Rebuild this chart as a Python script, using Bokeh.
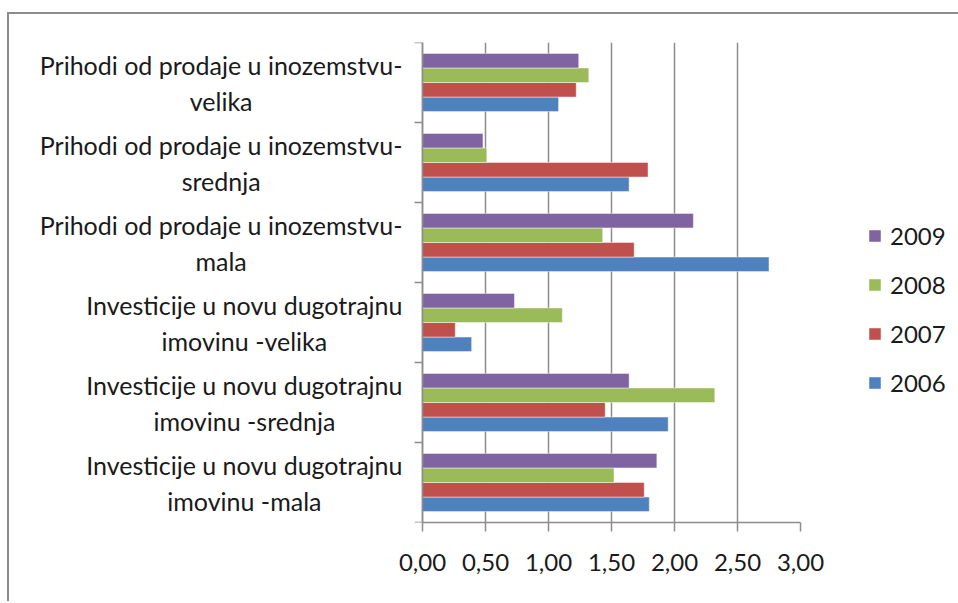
from bokeh.plotting import figure
from bokeh.models import ColumnDataSource, Range1d, FixedTicker, Legend, LegendItem
from bokeh.transform import dodge
from bokeh.core.properties import value
from bokeh.embed import file_html
from bokeh.resources import INLINE

# categories, bottom to top
categories = [
    "Investicije u novu dugotrajnu\nimovinu -mala",
    "Investicije u novu dugotrajnu\nimovinu -srednja",
    "Investicije u novu dugotrajnu\nimovinu -velika",
    "Prihodi od prodaje u inozemstvu-\nmala",
    "Prihodi od prodaje u inozemstvu-\nsrednja",
    "Prihodi od prodaje u inozemstvu-\nvelika",
]
years = ["2006", "2007", "2008", "2009"]
v2006 = [1.80, 1.95, 0.39, 2.75, 1.64, 1.08]
v2007 = [1.76, 1.45, 0.26, 1.68, 1.79, 1.22]
v2008 = [1.52, 2.32, 1.11, 1.43, 0.51, 1.32]
v2009 = [1.86, 1.64, 0.73, 2.15, 0.48, 1.24]
x_ticks = [0.0, 0.5, 1.0, 1.5, 2.0, 2.5, 3.0]
x_tick_labels = ["0,00", "0,50", "1,00", "1,50", "2,00", "2,50", "3,00"]
colors = {"2006": "#4F81BD", "2007": "#C0504D", "2008": "#9BBB59", "2009": "#8064A2"}

FONT = "Lato"
FS = "24px"
GRAY = "#8c8c8c"
TXT = "#1a1a1a"

n = len(categories)
centers = [i + 0.5 for i in range(n)]
bounds = [float(i) for i in range(n + 1)]

# layout (pixels)
LABEL_AREA = 413          # room left of the value axis for category labels
PLOT_W = 378              # width of the 0..3 value region
px_per_unit = PLOT_W / (x_ticks[-1] - x_ticks[0])
x_start = -LABEL_AREA / px_per_unit
tick_len = 8 / px_per_unit

source = ColumnDataSource(data=dict(y=centers, label=categories, v2006=v2006,
                                    v2007=v2007, v2008=v2008, v2009=v2009))

p = figure(frame_width=LABEL_AREA + PLOT_W, frame_height=480,
           x_range=Range1d(x_start, x_ticks[-1]), y_range=Range1d(0, n),
           y_axis_location=None,
           output_backend="svg", toolbar_location=None,
           min_border_left=0, min_border_top=28,
           min_border_right=158, min_border_bottom=81)
p.outline_line_color = None
p.background_fill_color = "white"
p.border_fill_color = "white"
p.styles = {"margin-top": "14px", "margin-left": "9px",
            "box-shadow": "-2px -2px 0 0 #8c8c8c"}

bar_h = 0.182
series = [("2006", "v2006"), ("2007", "v2007"), ("2008", "v2008"), ("2009", "v2009")]
renderers = {}
for k, (yr, col) in enumerate(series):
    off = (k - 1.5) * bar_h
    r = p.hbar(y=dodge("y", off), right=col, left=0, height=bar_h, source=source,
               fill_color=colors[yr], line_color="white", line_alpha=0.45, line_width=1)
    renderers[yr] = r

# value axis line and category boundary ticks
p.segment(x0=0, y0=0, x1=0, y1=n, line_color=GRAY, line_width=1.5)
p.segment(x0=-tick_len, y0=bounds, x1=0, y1=bounds, line_color=GRAY, line_width=1.5)

# category labels: right-aligned block, centred lines
p.text(x=0, y="y", text="label", source=source, x_offset=-20,
       anchor=value("center_right"), text_align="center", text_baseline="middle",
       text_font=value(FONT), text_font_size=value("25px"), text_color=TXT,
       text_line_height=1.2)

# x axis
xa = p.xaxis[0]
xa.ticker = FixedTicker(ticks=x_ticks)
xa.bounds = (x_ticks[0], x_ticks[-1])
xa.major_label_overrides = {t: l for t, l in zip(x_ticks, x_tick_labels)}
xa.major_tick_out = 9
xa.major_tick_in = 0
xa.minor_tick_line_color = None
xa.axis_line_color = GRAY
xa.axis_line_width = 1.5
xa.major_tick_line_color = GRAY
xa.major_tick_line_width = 1.5
xa.major_label_text_font = FONT
xa.major_label_text_font_size = FS
xa.major_label_text_color = TXT
xa.major_label_standoff = 22

p.xgrid.grid_line_color = GRAY
p.xgrid.grid_line_width = 1.5
p.ygrid.visible = False

items = [LegendItem(label=yr, renderers=[renderers[yr]]) for yr in ["2009", "2008", "2007", "2006"]]
legend = Legend(items=items, location=(67, 125), glyph_width=15, glyph_height=15,
                label_height=28, label_standoff=8, spacing=20, padding=0, margin=0,
                border_line_color=None, background_fill_alpha=0,
                label_text_font=FONT, label_text_font_size=FS,
                label_text_color=TXT)
p.add_layout(legend, "right")

open("out.html", "w").write(file_html(p, INLINE))
